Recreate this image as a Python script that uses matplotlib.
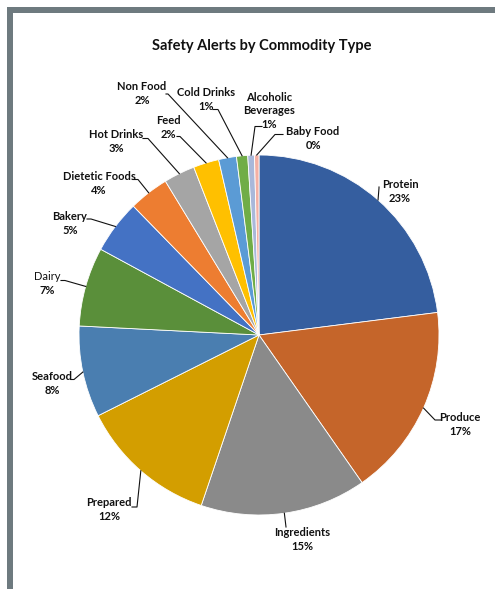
import matplotlib.pyplot as plt
import numpy as np
from matplotlib.patches import Rectangle

# data
categories = ['Protein', 'Produce', 'Ingredients', 'Prepared', 'Seafood', 'Dairy', 'Bakery',
              'Dietetic Foods', 'Hot Drinks', 'Feed', 'Non Food', 'Cold Drinks',
              'Alcoholic\nBeverages', 'Baby Food']
shares = [23.0, 17.3, 14.9, 12.4, 8.2, 7.1, 4.8, 3.6, 2.8, 2.3, 1.6, 1.0, 0.6, 0.4]
colors = ['#355E9F', '#C5652A', '#8A8A8A', '#D39E00', '#4A7EB0', '#5A8F3A', '#4472C4',
          '#ED7D31', '#A5A5A5', '#FFC000', '#5B9BD5', '#70AD47', '#A9B8DA', '#F4B0A4']

# label layout in pixels (from top-left): text x, split y between name and pct,
# leader start and elbow
label_pos = [(400, 191.5), (460, 424.5), (302, 540), (109, 510), (52, 383), (47, 284),
             (70, 223), (99, 184), (116, 141), (168, 127), (142, 93), (206, 99.5),
             (269, 118), (313, 138.5)]
leader_pts = [((379, 187), (379, 188)), ((441, 420), (435, 420)), ((286, 527), (286, 527)),
              ((132, 507), (137, 507)), ((71, 379.5), (74, 379.5)), ((61, 280.5), (65, 280.5)),
              ((87, 219), (91, 219)), ((133, 179.5), (138, 179.5)), ((143, 138.5), (148, 138.5)),
              ((177, 136.5), (180, 136.5)), ((166, 94), (168, 94)), ((213, 109.5), (218, 109.5)),
              ((262, 126.5), (255, 126.5)), ((283, 134.5), (275, 134.5))]

W, H = 495, 589
cx, cy, R = 259, 335, 180

plt.rcParams['font.family'] = ['Lato', 'DejaVu Sans']

fig = plt.figure(figsize=(W / 100, H / 100), dpi=100)
ax = fig.add_axes([0, 0, 1, 1])

wedges, _ = ax.pie(shares, colors=colors, startangle=90, counterclock=False,
                   center=(cx, H - cy), radius=R,
                   wedgeprops=dict(edgecolor='white', linewidth=0.6))
ax.set_xlim(0, W)
ax.set_ylim(0, H)
ax.set_aspect('auto')
ax.axis('off')

# frame
ax.add_patch(Rectangle((7, H - 13), W, 6, color='#6E7A7F', lw=0))
ax.add_patch(Rectangle((7, -10), 6, H + 3, color='#6E7A7F', lw=0))

ax.text(262, H - 46, 'Safety Alerts by Commodity Type', ha='center', va='center',
        fontsize=10.5, fontweight='bold', color='#111111')

for w, name, val, (tx, ty), (p0, p1) in zip(wedges, categories, shares, label_pos, leader_pts):
    mid = np.deg2rad((w.theta1 + w.theta2) / 2)
    ex = cx + R * np.cos(mid)
    ey = H - cy + R * np.sin(mid)
    ax.plot([p0[0], p1[0], ex], [H - p0[1], H - p1[1], ey], color='#111111', lw=0.8)
    weight = 'normal' if name == 'Dairy' else 'bold'
    ax.text(tx, H - ty + 1.5, name, ha='center', va='bottom', fontsize=8,
            fontweight=weight, color='#111111', linespacing=1.3)
    ax.text(tx, H - ty - 1.5, f'{val:.0f}%', ha='center', va='top', fontsize=8,
            fontweight='bold', color='#111111')

fig.savefig('out.png', dpi=100)
